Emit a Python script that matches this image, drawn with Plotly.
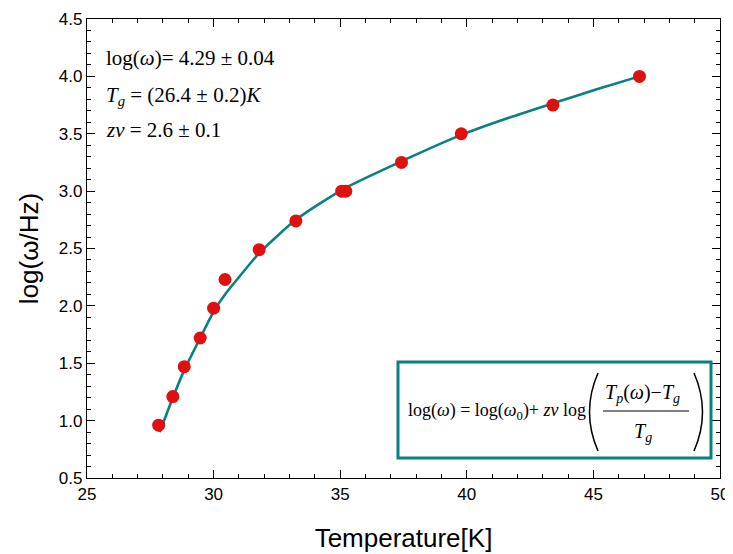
import plotly.graph_objects as go

# Data
temperature = [27.83, 28.39, 28.84, 29.47, 30.00, 30.45, 31.80, 33.25, 35.06, 35.22, 37.42, 39.78, 43.40, 46.82]
log_omega = [0.96, 1.21, 1.47, 1.72, 1.98, 2.23, 2.49, 2.74, 3.00, 3.00, 3.25, 3.50, 3.75, 4.00]

# Fit curve
fit_T = [27.87, 28.39, 28.84, 29.47, 30.00, 30.45, 31.00, 31.80, 33.25, 35.14, 37.42, 39.78, 41.60, 43.40, 45.10, 46.82]
fit_y = [0.90, 1.20, 1.44, 1.72, 1.95, 2.10, 2.25, 2.46, 2.75, 3.02, 3.26, 3.49, 3.635, 3.765, 3.885, 4.00]

x_ticks = [25, 30, 35, 40, 45, 50]
y_ticks = [0.5, 1.0, 1.5, 2.0, 2.5, 3.0, 3.5, 4.0, 4.5]

TEAL = "#0a8080"
RED = "#e01010"

# the page has an 8px body margin, so the figure is drawn 8px in from the window corner
OFF = 8
W, H = 733 - OFF, 554 - OFF
L, R, T, B = 87 - OFF, 13, 19 - OFF, 76
PW, PH = W - L - R, H - T - B


def px(x):
    return (x - OFF - L) / PW


def py(y):
    return (H - B - (y - OFF)) / PH


fig = go.Figure()
fig.add_trace(go.Scatter(x=fit_T, y=fit_y, mode="lines",
                         line=dict(color=TEAL, width=2.6, shape="spline", smoothing=0.6),
                         hoverinfo="skip", showlegend=False))
fig.add_trace(go.Scatter(x=temperature, y=log_omega, mode="markers",
                         marker=dict(color=RED, size=13, line=dict(width=0)), showlegend=False))
# invisible helper traces so the major/minor tick frames get drawn
fig.add_trace(go.Scatter(x=temperature, y=log_omega, xaxis="x2", yaxis="y2", mode="markers",
                         marker=dict(opacity=0), hoverinfo="skip", showlegend=False))
fig.add_trace(go.Scatter(x=temperature, y=log_omega, xaxis="x3", yaxis="y3", mode="markers",
                         marker=dict(opacity=0), hoverinfo="skip", showlegend=False))

tickfont = dict(family="Liberation Sans, Arial", size=17, color="black")
common = dict(showline=True, linecolor="black", linewidth=1.3,
              ticks="inside", tickcolor="black",
              showgrid=False, zeroline=False, automargin=False)
major = dict(ticklen=8, tickwidth=1.4, **common)
minor = dict(ticklen=4, tickwidth=1.2, **common)

fig.update_layout(
    xaxis=dict(range=[25, 50], tickmode="array", tickvals=x_ticks, ticktext=[str(v) for v in x_ticks],
               tickfont=tickfont, mirror=False,
               title=dict(text="Temperature[K]", font=dict(family="Liberation Sans, Arial", size=26, color="black"),
                          standoff=26),
               **major),
    yaxis=dict(range=[0.5, 4.5], tickmode="array", tickvals=y_ticks, ticktext=[f"{v:.1f}" for v in y_ticks],
               tickfont=tickfont, mirror=False,
               title=dict(text="log(ω/Hz)", font=dict(family="Liberation Sans, Arial", size=26, color="black"),
                          standoff=12),
               **major),
    # major tick frame
    xaxis2=dict(range=[25, 50], tickmode="linear", tick0=x_ticks[0], dtick=x_ticks[1] - x_ticks[0],
                overlaying="x", side="top", anchor="y2", showticklabels=False, mirror="allticks", **major),
    yaxis2=dict(range=[0.5, 4.5], tickmode="linear", tick0=y_ticks[0], dtick=y_ticks[1] - y_ticks[0],
                overlaying="y", side="right", anchor="x2", showticklabels=False, mirror="allticks", **major),
    # minor tick frame
    xaxis3=dict(range=[25, 50], tickmode="linear", tick0=x_ticks[0], dtick=1,
                overlaying="x", side="top", anchor="y3", showticklabels=False, mirror="allticks", **minor),
    yaxis3=dict(range=[0.5, 4.5], tickmode="linear", tick0=y_ticks[0], dtick=0.1,
                overlaying="y", side="right", anchor="x3", showticklabels=False, mirror="allticks", **minor),
)

serif = dict(family="Liberation Serif, Times New Roman", size=21, color="black")
serif_f = dict(family="Liberation Serif, Times New Roman", size=18, color="black")
serif_n = dict(family="Liberation Serif, Times New Roman", size=20, color="black")

anns = [
    ("log(<i>ω</i>)= 4.29 ± 0.04", 104, 58),
    ("<i>T<sub>g</sub></i> = (26.4 ± 0.2)<i>K</i>", 104, 96),
    ("<i>zν</i> = 2.6 ± 0.1", 104, 130),
]
for text, x, y in anns:
    fig.add_annotation(text=text, xref="paper", yref="paper", x=px(x), y=py(y), xanchor="left", yanchor="middle",
                       showarrow=False, font=serif)

# Formula box
fig.add_shape(type="rect", xref="paper", yref="paper", x0=px(398), x1=px(711), y0=py(458), y1=py(362),
              line=dict(color=TEAL, width=3), fillcolor="white", layer="above")
fig.add_annotation(text="log(<i>ω</i>) = log(<i>ω</i><sub>0</sub>)+ <i>zν</i> log", xref="paper", yref="paper",
                   x=px(406), y=py(411), xanchor="left", yanchor="middle", showarrow=False, font=serif_f)


def paren(x_end, x_ctrl, y_top, y_bot):
    return (f"M {px(x_end)} {py(y_top)} Q {px(x_ctrl)} {py((y_top + y_bot) / 2)} {px(x_end)} {py(y_bot)}")


fig.add_shape(type="path", xref="paper", yref="paper", path=paren(598, 581, 373, 451),
              line=dict(color="black", width=1.5), layer="above")
fig.add_shape(type="path", xref="paper", yref="paper", path=paren(694, 711, 373, 451),
              line=dict(color="black", width=1.5), layer="above")
fig.add_annotation(text="<i>T<sub>p</sub></i>(<i>ω</i>)−<i>T<sub>g</sub></i>", xref="paper", yref="paper",
                   x=px(642), y=py(393), xanchor="center", yanchor="middle", showarrow=False, font=serif_n)
fig.add_shape(type="line", xref="paper", yref="paper", x0=px(603), x1=px(689), y0=py(411), y1=py(411),
              line=dict(color="black", width=1.2), layer="above")
fig.add_annotation(text="<i>T<sub>g</sub></i>", xref="paper", yref="paper",
                   x=px(643), y=py(432), xanchor="center", yanchor="middle", showarrow=False, font=serif_n)

fig.update_layout(width=W, height=H, margin=dict(l=L, r=R, t=T, b=B), plot_bgcolor="white",
                  paper_bgcolor="white", template="none")

fig.write_html("out.html")
